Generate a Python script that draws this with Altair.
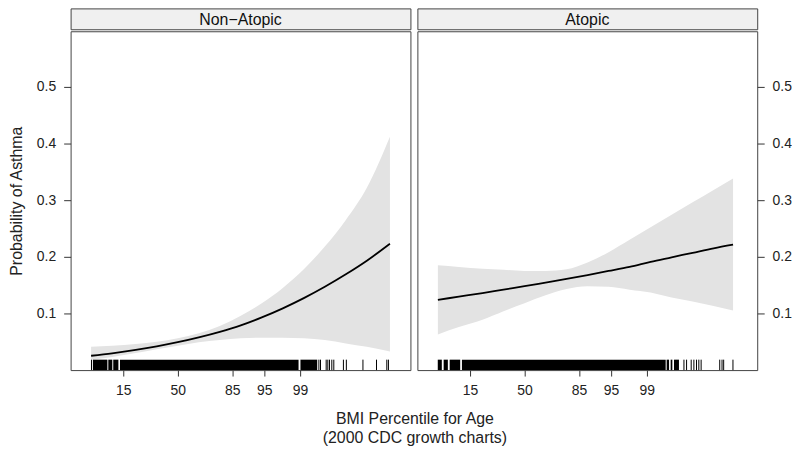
import altair as alt
import pandas as pd

FONT = "Liberation Sans"

# ---- data ----
panel_names = ["Non\u2212Atopic", "Atopic"]

# x positions are in normal-score units of the BMI percentile
z_left = [-1.65, -1.25, -0.8, -0.4, 0.0, 0.4, 0.8, 1.2, 1.6, 2.0, 2.4, 2.8, 3.2, 3.6, 4.04]
fit_left = [0.0253, 0.0297, 0.0357, 0.0420, 0.0493, 0.0578, 0.0676, 0.0790, 0.0930, 0.1090,
            0.1270, 0.1470, 0.1690, 0.1930, 0.2230]
hi_left = [0.041, 0.043, 0.046, 0.050, 0.056, 0.065, 0.078, 0.096, 0.118, 0.145,
           0.178, 0.218, 0.265, 0.322, 0.412]
lo_left = [0.018, 0.023, 0.030, 0.037, 0.043, 0.049, 0.053, 0.056, 0.057, 0.057,
           0.056, 0.053, 0.047, 0.041, 0.033]

z_right = [-1.65, -1.25, -0.8, -0.4, 0.0, 0.4, 0.8, 1.2, 1.6, 2.0, 2.4, 2.8, 3.2, 3.6, 3.97]
fit_right = [0.124, 0.1296, 0.1359, 0.1421, 0.148, 0.1545, 0.161, 0.1678, 0.1749, 0.1822,
             0.191, 0.199, 0.207, 0.215, 0.2215]
hi_right = [0.185, 0.182, 0.179, 0.177, 0.175, 0.175, 0.178, 0.190, 0.208, 0.230,
            0.252, 0.274, 0.296, 0.318, 0.338]
lo_right = [0.063, 0.076, 0.089, 0.104, 0.118, 0.132, 0.143, 0.148, 0.147, 0.142,
            0.137, 0.128, 0.121, 0.113, 0.105]

# rug: dense blocks (start, end) and isolated observations
rug_left_start = [-1.652, -1.615, -1.322, -1.228, -1.100, 2.336]
rug_left_end = [-1.632, -1.340, -1.246, -1.130, 2.300, 2.655]
rug_left_single = [2.687, 2.718, 2.826, 2.857, 2.889, 2.933, 2.971, 3.154, 3.210,
                   3.526, 3.784, 3.980, 4.011]

rug_right_start = [-1.652, -1.540, -1.425, -1.192, 2.706, 2.782, 2.846]
rug_right_end = [-1.575, -1.460, -1.225, 2.687, 2.751, 2.814, 2.940]
rug_right_single = [3.035, 3.085, 3.173, 3.224, 3.274, 3.318, 3.362, 3.716, 3.760,
                    3.791, 3.968]

tick_z = [-1.0364, 0.0, 1.0364, 1.6449, 2.3263]
tick_labels = ["15", "50", "85", "95", "99"]
y_ticks = [0.1, 0.2, 0.3, 0.4, 0.5]

y_title = "Probability of Asthma"
x_title = ["BMI Percentile for Age", "(2000 CDC growth charts)"]

# ---- layout / style ----
X_DOMAIN = [-2.04, 4.43]
Y_DOMAIN = [0, 0.598]
RUG_TOP = 0.0184
W, H, STRIP_H = 342, 341, 21
BORDER = "#444444"
TXT = "#222222"

label_expr = f"'{tick_labels[-1]}'"
for v, l in reversed(list(zip(tick_z, tick_labels))[:-1]):
    label_expr = f"datum.value < {v + 0.01:.4f} ? '{l}' : ({label_expr})"


def panel(name, z, fit, lo, hi, rs, re, rt, orient, title):
    curve = pd.DataFrame({"z": z, "fit": fit, "lo": lo, "hi": hi})
    xaxis = alt.Axis(values=tick_z, labelExpr=label_expr, grid=False, domain=False,
                     tickSize=6, tickColor="#333", labelPadding=8, labelFont=FONT,
                     labelFontSize=14, labelColor=TXT, labelFlush=False,
                     labelOverlap=False, title=None)
    yaxis = alt.Axis(orient=orient, values=y_ticks, format=".1f", grid=False, domain=False,
                     tickSize=7, tickColor="#333", labelPadding=8, labelFont=FONT,
                     labelFontSize=14, labelColor=TXT, titleFont=FONT, titleFontSize=16,
                     titleFontWeight="normal", titleColor=TXT, titlePadding=12)
    xs = alt.Scale(domain=X_DOMAIN, nice=False, zero=False)
    ys = alt.Scale(domain=Y_DOMAIN, nice=False, zero=False)

    band = alt.Chart(curve).mark_area(color="#e3e3e3", interpolate="monotone").encode(
        x=alt.X("z:Q", scale=xs, axis=xaxis),
        y=alt.Y("lo:Q", scale=ys, axis=yaxis, title=title),
        y2="hi:Q",
    )
    line = alt.Chart(curve).mark_line(color="black", strokeWidth=1.8,
                                      interpolate="monotone").encode(
        x=alt.X("z:Q", scale=xs, title=None),
        y=alt.Y("fit:Q", scale=ys, title=title),
    )
    rug_blocks = alt.Chart(pd.DataFrame({"a": rs, "b": re})).mark_rect(
        color="black"
    ).encode(
        x=alt.X("a:Q", scale=xs, title=None), x2="b:Q",
        y=alt.datum(0), y2=alt.datum(RUG_TOP),
    )
    rug_single = alt.Chart(pd.DataFrame({"s": rt})).mark_rule(color="black",
                                                               strokeWidth=1).encode(
        x=alt.X("s:Q", scale=xs, title=None),
        y=alt.datum(0), y2=alt.datum(RUG_TOP),
    )
    plot = alt.layer(band, line, rug_blocks, rug_single).properties(
        width=W, height=H,
        view=alt.ViewBackground(stroke=BORDER, strokeWidth=1, fill="white"),
    )
    strip = alt.Chart(pd.DataFrame({"label": [name]})).mark_text(
        font=FONT, fontSize=16, color="#111", baseline="middle"
    ).encode(
        text="label:N", x=alt.value(W / 2), y=alt.value(STRIP_H / 2 + 1),
    ).properties(
        width=W, height=STRIP_H,
        view=alt.ViewBackground(fill="#f0f0f0", stroke=BORDER, strokeWidth=1),
    )
    return alt.vconcat(strip, plot, spacing=0)


left = panel(panel_names[0], z_left, fit_left, lo_left, hi_left,
             rug_left_start, rug_left_end, rug_left_single, "left", y_title)
right = panel(panel_names[1], z_right, fit_right, lo_right, hi_right,
              rug_right_start, rug_right_end, rug_right_single, "right", None)

chart = alt.hconcat(left, right, spacing=5).properties(
    padding={"left": 0, "top": -2, "right": 0, "bottom": 0},
    title=alt.TitleParams(text=x_title, orient="bottom", anchor="middle", font=FONT,
                          fontSize=16, fontWeight="normal", color=TXT, lineHeight=19,
                          offset=13, dx=15),
).configure_view(stroke=None)

chart.save("out.html", embed_options={"renderer": "svg", "actions": False})
